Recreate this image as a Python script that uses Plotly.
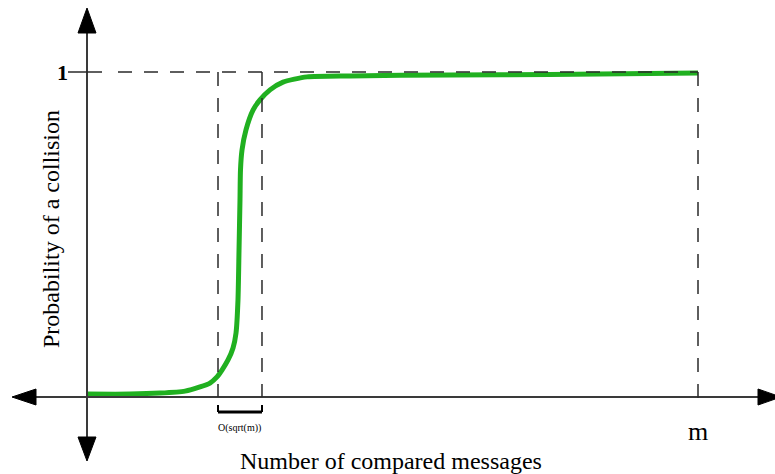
import plotly.graph_objects as go

# ---- data (x: number of compared messages, m = 100; y: probability) ----
curve_x = [0, 7.04, 11.95, 16.04, 18.49, 20.13, 21.28, 22.09, 23.08, 23.90, 24.39,
           24.71, 24.88, 25.04, 25.12, 25.37, 26.02, 27.17, 28.31, 29.95, 32.08,
           36.01, 43.04, 59.41, 75.78, 100]
curve_y = [0.009, 0.009, 0.012, 0.018, 0.031, 0.043, 0.062, 0.083, 0.114, 0.151, 0.197,
           0.298, 0.452, 0.606, 0.698, 0.760, 0.822, 0.883, 0.914, 0.945, 0.969,
           0.985, 0.988, 0.991, 0.992, 0.997]
m_value = 100
bracket_x = [21.44, 28.64]   # O(sqrt(m)) window
y_one = 1
y_label = "Probability of a collision"
x_label = "Number of compared messages"
bracket_label = "O(sqrt(m))"

W, H = 775, 474
X0PX, MPX = 87, 698          # pixel of x=0 and x=m
Y0PX, Y1PX = 397, 72         # pixel of y=0 and y=1
sx = (MPX - X0PX) / m_value
sy = (Y0PX - Y1PX) / y_one
xr = [-X0PX / sx, (W - X0PX) / sx]
yr = [(Y0PX - H) / sy, Y0PX / sy]

def dx(p):  # pixel offset -> data x
    return p / sx

def dy(p):
    return p / sy

fig = go.Figure()
fig.add_trace(go.Scatter(x=curve_x, y=curve_y, mode="lines",
                         line=dict(color="#20b020", width=5, shape="spline", smoothing=0.6),
                         hoverinfo="skip", showlegend=False))

shapes = []
axis_col = "#3a3a3a"
dash_col = "#2a2a2a"
# axes lines
shapes.append(dict(type="line", x0=dx(-70), x1=dx(760 - X0PX), y0=0, y1=0,
                   line=dict(color=axis_col, width=2)))
shapes.append(dict(type="line", x0=0, x1=0, y0=dy(Y0PX - 30), y1=dy(Y0PX - 440),
                   line=dict(color=axis_col, width=2)))

def tri(pts):
    path = "M " + " L ".join(f"{a},{b}" for a, b in pts) + " Z"
    return dict(type="path", path=path, fillcolor="black", line=dict(color="black", width=1))

# arrowheads
shapes.append(tri([(0, dy(Y0PX - 8)), (dx(-9), dy(Y0PX - 33)), (dx(9), dy(Y0PX - 33))]))
shapes.append(tri([(0, dy(Y0PX - 461)), (dx(-9), dy(Y0PX - 437)), (dx(9), dy(Y0PX - 437))]))
shapes.append(tri([(dx(12 - X0PX), 0), (dx(36 - X0PX), dy(8)), (dx(36 - X0PX), dy(-8))]))
shapes.append(tri([(dx(781 - X0PX), 0), (dx(758 - X0PX), dy(8)), (dx(758 - X0PX), dy(-8))]))

# y=1 tick and dashed guide
shapes.append(dict(type="line", x0=dx(-19), x1=dx(15), y0=y_one, y1=y_one,
                   line=dict(color=dash_col, width=1.5)))
shapes.append(dict(type="line", x0=dx(31), x1=m_value, y0=y_one, y1=y_one,
                   line=dict(color=dash_col, width=1.5, dash="14px,12px")))
# vertical dashed guides
for bx in bracket_x:
    shapes.append(dict(type="line", x0=bx, x1=bx, y0=y_one, y1=0,
                       line=dict(color=dash_col, width=1.5, dash="14px,12px")))
shapes.append(dict(type="line", x0=m_value, x1=m_value, y0=y_one, y1=dy(-11),
                   line=dict(color=dash_col, width=1.5, dash="14px,12px")))
# bracket
shapes.append(dict(type="line", x0=bracket_x[0], x1=bracket_x[1], y0=dy(-15), y1=dy(-15),
                   line=dict(color="black", width=3)))
for bx in bracket_x:
    shapes.append(dict(type="line", x0=bx, x1=bx, y0=dy(-15), y1=dy(-8),
                       line=dict(color="black", width=2)))

font = "Liberation Serif"
ann = [
    dict(x=dx(-25), y=y_one, text="<b>1</b>", showarrow=False, font=dict(family=font, size=22, color="black")),
    dict(x=m_value, y=dy(-34), text="m", showarrow=False, font=dict(family=font, size=26, color="black")),
    dict(x=sum(bracket_x) / 2, y=dy(-31), text=bracket_label, showarrow=False,
         font=dict(family=font, size=10, color="black")),
    dict(x=dx(391 - X0PX), y=dy(Y0PX - 461), text=x_label, showarrow=False,
         font=dict(family=font, size=24, color="black")),
    dict(x=dx(51 - X0PX), y=dy(Y0PX - 229), text=y_label, showarrow=False, textangle=-90,
         font=dict(family=font, size=24, color="black")),
]

fig.update_layout(width=W, height=H, margin=dict(l=0, r=0, t=0, b=0),
                  paper_bgcolor="white", plot_bgcolor="white",
                  xaxis=dict(range=xr, visible=False, fixedrange=True),
                  yaxis=dict(range=yr, visible=False, fixedrange=True),
                  shapes=shapes, annotations=ann, showlegend=False)
fig.write_html("out.html", config={"displayModeBar": False},
               post_script="document.body.style.margin='0';document.body.style.overflow='hidden';")
